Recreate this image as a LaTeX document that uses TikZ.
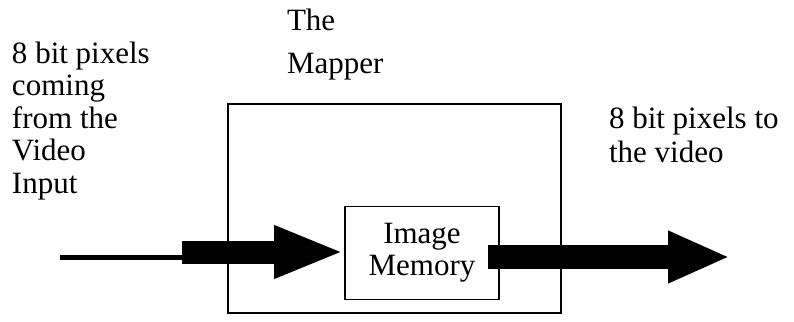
\documentclass[tikz,border=0pt]{standalone}
\usepackage{fontspec}
\setmainfont{Liberation Serif}
\usetikzlibrary{arrows.meta}
\tikzset{
  lbl/.style={inner sep=0pt, outer sep=0pt, align=left, anchor=north west, font=\fontsize{31}{32.5}\selectfont},
  box/.style={draw, line width=1.6pt, inner sep=0pt},
  thickarrow/.style={line width=#1, -{Triangle[length=70pt,width=48pt]}},
}
\begin{document}
\begin{tikzpicture}[x=1pt,y=-1pt]
\useasboundingbox (0,0) rectangle (794,321);
\fill[white] (0,0) rectangle (794,321);
% boxes
\node[box, minimum width=333pt, minimum height=209pt] (mapper) at (394.5,208.5) {};
\node[box, minimum width=154pt, minimum height=93pt, align=center,
      font=\fontsize{31}{32}\selectfont] (mem) at (422,253) {Image\\Memory};
% labels
\node[lbl] (inlbl) at (12,41.8) {\baselineskip=32.5pt 8 bit pixels\\coming\\from the\\Video\\Input};
\node[lbl, font=\fontsize{31}{43}\selectfont] (maplbl) at (287,8.8) {The\\Mapper};
\node[lbl, font=\fontsize{31}{34}\selectfont] (outlbl) at (609,106.8) {8 bit pixels to\\the video};
% input arrow
\coordinate (in) at (60,257);
\coordinate (step) at (182,257);
\coordinate (shaft) at (182,252);
\draw[line width=5pt] (in) -- (step);
\draw[thickarrow=23pt] (shaft) -- (mem.west |- shaft);
% output arrow
\coordinate (outstart) at (488,257);
\coordinate (outend) at (730,257);
\draw[line width=24pt, -{Triangle[length=62pt,width=48pt]}] (outstart) -- (outend);
\end{tikzpicture}
\end{document}
